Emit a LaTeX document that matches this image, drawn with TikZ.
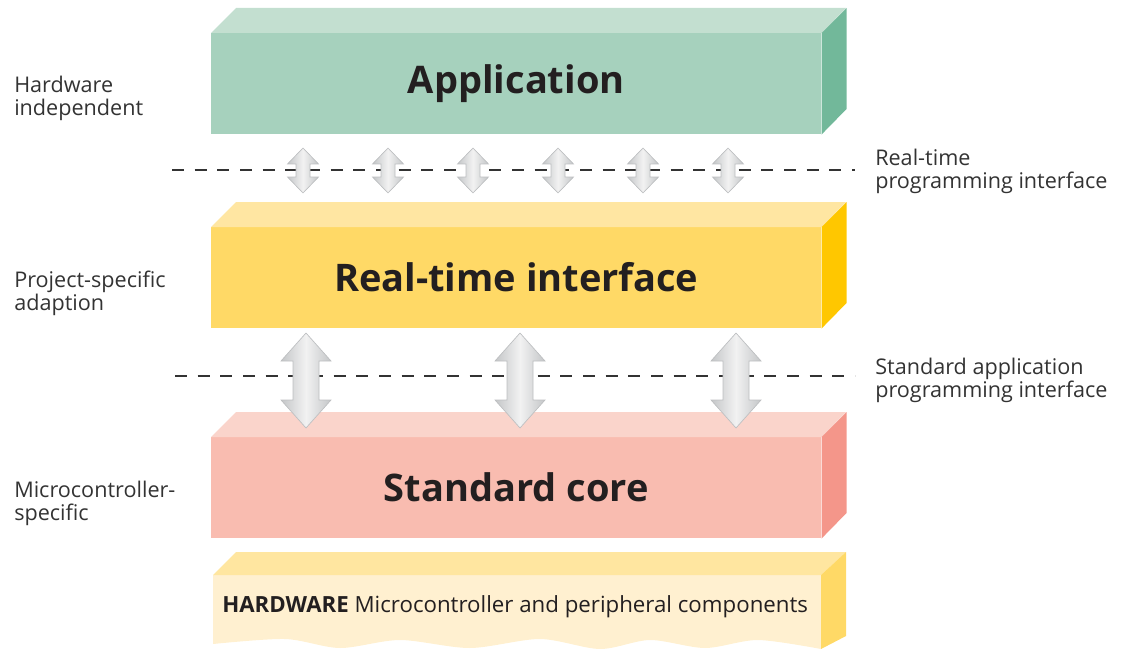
\documentclass[tikz,border=0pt]{standalone}
\usepackage{fontspec}
\setmainfont{Open Sans}
\usetikzlibrary{positioning}
\definecolor{appfront}{HTML}{A6D1BD}
\definecolor{apptop}{HTML}{C3DFD0}
\definecolor{appside}{HTML}{72B89A}
\definecolor{rtifront}{HTML}{FFD966}
\definecolor{rtitop}{HTML}{FFE6A2}
\definecolor{rtiside}{HTML}{FFC700}
\definecolor{corefront}{HTML}{F9BCB0}
\definecolor{coretop}{HTML}{FAD4CB}
\definecolor{coreside}{HTML}{F4968A}
\definecolor{hwfront}{HTML}{FFF0D0}
\definecolor{hwtop}{HTML}{FFE6A0}
\definecolor{hwside}{HTML}{FFD966}
\definecolor{textdark}{HTML}{231F20}
\definecolor{labelgray}{HTML}{333333}
\definecolor{arrowedge}{HTML}{C4C6C8}
\definecolor{arrowmid}{HTML}{F2F2F2}
\definecolor{arrowline}{HTML}{BDBFC1}
\newcommand{\updown}[6]{% x, top, bottom, head half width, shaft half width, head length
\path[left color=arrowedge,right color=arrowedge,middle color=arrowmid,draw=arrowline,line width=0.5pt]
(#1,#2)--(#1+#4,#2+#6)--(#1+#5,#2+#6)--(#1+#5,#3-#6)--(#1+#4,#3-#6)--(#1,#3)
--(#1-#4,#3-#6)--(#1-#5,#3-#6)--(#1-#5,#2+#6)--(#1-#4,#2+#6)--cycle;}
\tikzset{
layer/.style={rectangle,inner sep=0pt,anchor=north west,minimum width=457.5pt,
 minimum height=75.75pt,text=textdark,font=\fontsize{28.5}{33}\selectfont\bfseries},
side/.style={inner sep=0pt,anchor=west,align=left,text=labelgray,
 font=\fontsize{16.2}{17.4}\selectfont},
cutline/.style={line width=0.8pt,color=labelgray,dash pattern=on 9pt off 8pt}
}
\begin{document}
\begin{tikzpicture}[x=0.75pt,y=-0.75pt]
\useasboundingbox (0,0) rectangle (1127,649);
% layers
\node[layer,fill=appfront] (app) at (211,33) {Application};
\fill[apptop] (app.north west)--++(25,-25)--++(610,0)--(app.north east)--cycle;
\fill[appside] (app.north east)--++(25,-25)--++(0,101)--(app.south east)--cycle;
\node[layer,fill=rtifront] (rti) at (211,227) {\raisebox{1.5pt}{Real-time interface}};
\fill[rtitop] (rti.north west)--++(25,-25)--++(610,0)--(rti.north east)--cycle;
\fill[rtiside] (rti.north east)--++(25,-25)--++(0,101)--(rti.south east)--cycle;
\node[layer,fill=corefront] (core) at (211,437) {\raisebox{1.5pt}{Standard core}};
\fill[coretop] (core.north west)--++(25,-25)--++(610,0)--(core.north east)--cycle;
\fill[coreside] (core.north east)--++(25,-25)--++(0,101)--(core.south east)--cycle;
% hardware with torn bottom edge
\coordinate (hw) at (213,575);
\fill[hwfront] (hw)--(821,575)--plot[smooth] coordinates {(821,649) (758,640) (705,648)
 (650,640) (600,649) (540,639) (470,648) (400,640) (340,648) (285,639) (213,644)}--cycle;
\fill[hwtop] (hw)--++(23,-23)--(846,552)--(821,575)--cycle;
\fill[hwside] (821,575)--(846,552)--(846,636)--(821,649)--cycle;
\node[anchor=west,inner sep=0pt,text=textdark,font=\fontsize{16.7}{20}\selectfont] (hwtext) at (222,607)
 {\textbf{HARDWARE} Microcontroller and peripheral components};
% interfaces
\coordinate (i1) at (172,170);
\coordinate (i2) at (175,376);
\draw[cutline] (i1)--(855,170);
\draw[cutline] (i2)--(855,376);
\foreach \x in {303,388,473,558,643,728}
 \updown{\x}{148}{193}{15.5}{7}{16};
\foreach \x in {306,520,736}
 \updown{\x}{333}{428}{25}{13}{28};
% labels
\node[side] (l1) at (14,98) {Hardware\\independent};
\node[side] (l2) at (14,293) {Project-specific\\adaption};
\node[side] (l3) at (14,503) {Microcontroller-\\specific};
\node[side] (r1) at (875,171) {Real-time\\programming interface};
\node[side] (r2) at (875,380) {Standard application\\programming interface};
\end{tikzpicture}
\end{document}
